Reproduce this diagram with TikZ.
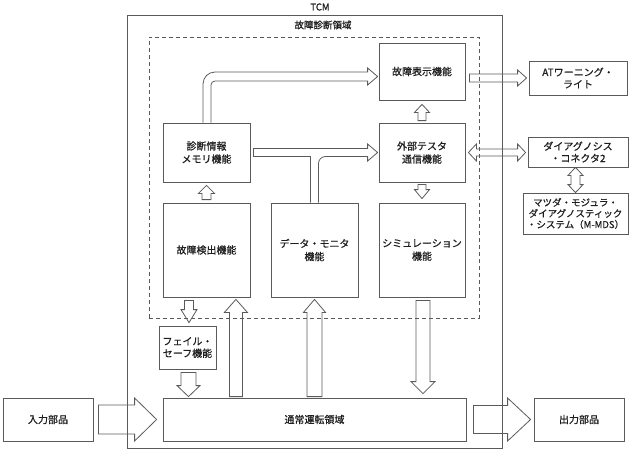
\documentclass[tikz,border=0pt]{standalone}
\usepackage{fontspec}
\setmainfont{Noto Sans CJK JP}[FakeBold=0.8]
\usepackage{tikz}
\usetikzlibrary{positioning,calc}
\definecolor{linegray}{RGB}{90,90,90}
\definecolor{textdark}{RGB}{30,30,30}

% hollow block arrow: from, to, half shaft, half head, head length
\newcommand{\blkarrow}[5]{%
  \coordinate (ba-h) at ($(#2)!#5!(#1)$);
  \draw[blk] ($(#1)!#3!90:(#2)$) -- ($(ba-h)!#3!90:(#2)$) -- ($(ba-h)!#4!90:(#2)$) -- (#2)
    -- ($(ba-h)!#4!-90:(#2)$) -- ($(ba-h)!#3!-90:(#2)$) -- ($(#1)!#3!-90:(#2)$) -- cycle;}
% hollow block arrow with two heads
\newcommand{\dblarrow}[5]{%
  \coordinate (ba-a) at ($(#1)!#5!(#2)$);
  \coordinate (ba-b) at ($(#2)!#5!(#1)$);
  \draw[blk] (#1) -- ($(ba-a)!#4!90:(#2)$) -- ($(ba-a)!#3!90:(#2)$) -- ($(ba-b)!#3!90:(#2)$)
    -- ($(ba-b)!#4!90:(#2)$) -- (#2) -- ($(ba-b)!#4!-90:(#2)$) -- ($(ba-b)!#3!-90:(#2)$)
    -- ($(ba-a)!#3!-90:(#2)$) -- ($(ba-a)!#4!-90:(#2)$) -- cycle;}

\begin{document}
\begin{tikzpicture}[x=1pt, y=-1pt,
    box/.style={draw=linegray, line width=0.8pt, align=center, inner sep=1pt, text=textdark, font=\fontsize{10}{13}\selectfont},
    smallbox/.style={box, font=\fontsize{10}{12}\selectfont},
    blk/.style={draw=linegray, line width=0.8pt, line join=miter},
    caption/.style={inner sep=0pt, text=textdark, font=\fontsize{9.5}{11}\selectfont}]
    \useasboundingbox (0,0) rectangle (632,450);

    % frames
    \node[draw=linegray, line width=0.8pt, minimum width=375pt, minimum height=433pt] (tcm) at (314.5,231.5) {};
    \node[caption] (tcmtext) at (320,7) {TCM};
    \node[draw=linegray, line width=0.6pt, dash pattern=on 4pt off 3pt, minimum width=330pt, minimum height=281pt] (region) at (314,177.5) {};
    \node[caption] (regiontext) at (323,25) {故障診断領域};

    % diagnosis functions
    \node[box, minimum width=86pt, minimum height=57pt] (diag) at (422,71.5) {故障表示機能};
    \node[box, minimum width=87pt, minimum height=59pt] (memory) at (206.5,152.5) {診断情報\\メモリ機能};
    \node[box, minimum width=86pt, minimum height=59pt] (tester) at (422,152.5) {外部テスタ\\通信機能};
    \node[box, minimum width=87pt, minimum height=94pt] (detect) at (206.5,250) {故障検出機能};
    \node[box, minimum width=87pt, minimum height=94pt] (monitor) at (314.5,250) {データ・モニタ\\機能};
    \node[box, minimum width=86pt, minimum height=94pt] (sim) at (422,250) {シミュレーション\\機能};
    \node[smallbox, minimum width=57pt, minimum height=43pt] (failsafe) at (187.5,347.5) {フェイル・\\セーフ機能};
    \node[box, minimum width=303pt, minimum height=43pt] (normal) at (314.5,419.5) {通常運転領域};

    % outside parts
    \node[box, minimum width=90pt, minimum height=43pt] (input) at (48,419.5) {入力部品};
    \node[box, minimum width=90pt, minimum height=43pt] (output) at (579,419.5) {出力部品};
    \node[smallbox, minimum width=98pt, minimum height=34pt] (warn) at (578,78) {ATワーニング・\\ライト};
    \node[smallbox, minimum width=100pt, minimum height=30pt] (connector) at (578,152) {ダイアグノシス\\・コネクタ2};
    \node[box, font=\fontsize{9.5}{11}\selectfont, minimum width=105pt, minimum height=41pt] (mmds) at (575.5,213.5) {マツダ・モジュラ・\\ダイアグノスティック\\・システム（M-MDS）};

    % curved arrows
    \coordinate (lc) at ($(memory.north)+(0.5,0)$);
    \draw[blk] ($(lc)+(4,0)$) [rounded corners=4pt] |- ($(diag.west)+(-19,9.5)$) [sharp corners]
        -- ($(diag.west)+(-11,9.5)$) -- ($(diag.west)+(-11,13.5)$) -- ($(diag.west)+(-1,5)$)
        -- ($(diag.west)+(-11,-3.5)$) -- ($(diag.west)+(-11,0.5)$) -- ($(diag.west)+(-19,0.5)$)
        [rounded corners=12pt] -| ($(lc)+(-4,0)$);
    \coordinate (tc) at (memory.east -| tester.west);
    \draw[blk] ($(monitor.north)+(-4,0)$) |- ($(memory.east)+(3,4)$) -- ($(memory.east)+(3,-4)$)
        -- ($(tc)+(-11,-4)$) -- ($(tc)+(-11,-8.5)$) -- ($(tc)+(-1,0)$) -- ($(tc)+(-11,8.5)$)
        -- ($(tc)+(-11,4)$) -- ($(monitor.north |- memory.east)+(16,4)$)
        [rounded corners=7pt] -| ($(monitor.north)+(4,0)$);

    % straight arrows
    \coordinate (up1s) at ($(detect.north)+(0,-3)$);
    \coordinate (up1e) at ($(memory.south)+(0,3)$);
    \blkarrow{up1s}{up1e}{4.5pt}{8pt}{8pt}
    \coordinate (up2s) at ($(tester.north)+(0,-2)$);
    \coordinate (up2e) at ($(diag.south)+(0,4)$);
    \blkarrow{up2s}{up2e}{4pt}{7.5pt}{8pt}
    \coordinate (dn1s) at ($(tester.south)+(0,2)$);
    \coordinate (dn1e) at ($(sim.north)+(0,-4)$);
    \blkarrow{dn1s}{dn1e}{4pt}{7.5pt}{9pt}
    \coordinate (dn2s) at ($(failsafe.north |- detect.south)+(1.5,3)$);
    \coordinate (dn2e) at ($(failsafe.north)+(1.5,-3)$);
    \blkarrow{dn2s}{dn2e}{4.5pt}{8pt}{13pt}
    \coordinate (dn3s) at ($(failsafe.south)+(1,3)$);
    \coordinate (dn3e) at ($(failsafe.south |- normal.north)+(1,-1)$);
    \blkarrow{dn3s}{dn3e}{7.5pt}{11.5pt}{11pt}
    \coordinate (up3s) at ($(detect.south east |- normal.north)+(-14.5,-1)$);
    \coordinate (up3e) at ($(detect.south east)+(-14.5,2)$);
    \blkarrow{up3s}{up3e}{6.5pt}{11.5pt}{13pt}
    \coordinate (up4s) at ($(monitor.south |- normal.north)+(0,-1)$);
    \coordinate (up4e) at ($(monitor.south)+(0,2)$);
    \blkarrow{up4s}{up4e}{7.5pt}{11pt}{13pt}
    \coordinate (dn4s) at ($(sim.south)+(1,3)$);
    \coordinate (dn4e) at ($(sim.south |- normal.north)+(1,-4)$);
    \blkarrow{dn4s}{dn4e}{7pt}{12pt}{12pt}
    \coordinate (rt1s) at ($(diag.east |- warn.west)+(4,0)$);
    \coordinate (rt1e) at ($(warn.west)+(-2,0)$);
    \blkarrow{rt1s}{rt1e}{4pt}{8pt}{9pt}
    \coordinate (db1s) at ($(tester.east)+(3,0)$);
    \coordinate (db1e) at ($(tester.east -| connector.west)+(-2,0)$);
    \dblarrow{db1s}{db1e}{3.5pt}{8.5pt}{8pt}
    \coordinate (db2s) at (mmds.north |- connector.south);
    \coordinate (db2e) at (mmds.north);
    \dblarrow{db2s}{db2e}{4.5pt}{7.5pt}{8pt}
    \coordinate (in1s) at ($(input.east)+(5,0)$);
    \coordinate (in1e) at ($(normal.west)+(-6,0)$);
    \blkarrow{in1s}{in1e}{14.5pt}{21.5pt}{22pt}
    \coordinate (out1s) at ($(normal.east)+(7,0)$);
    \coordinate (out1e) at ($(output.west)+(-3,0)$);
    \blkarrow{out1s}{out1e}{14pt}{21.5pt}{23pt}
\end{tikzpicture}
\end{document}
